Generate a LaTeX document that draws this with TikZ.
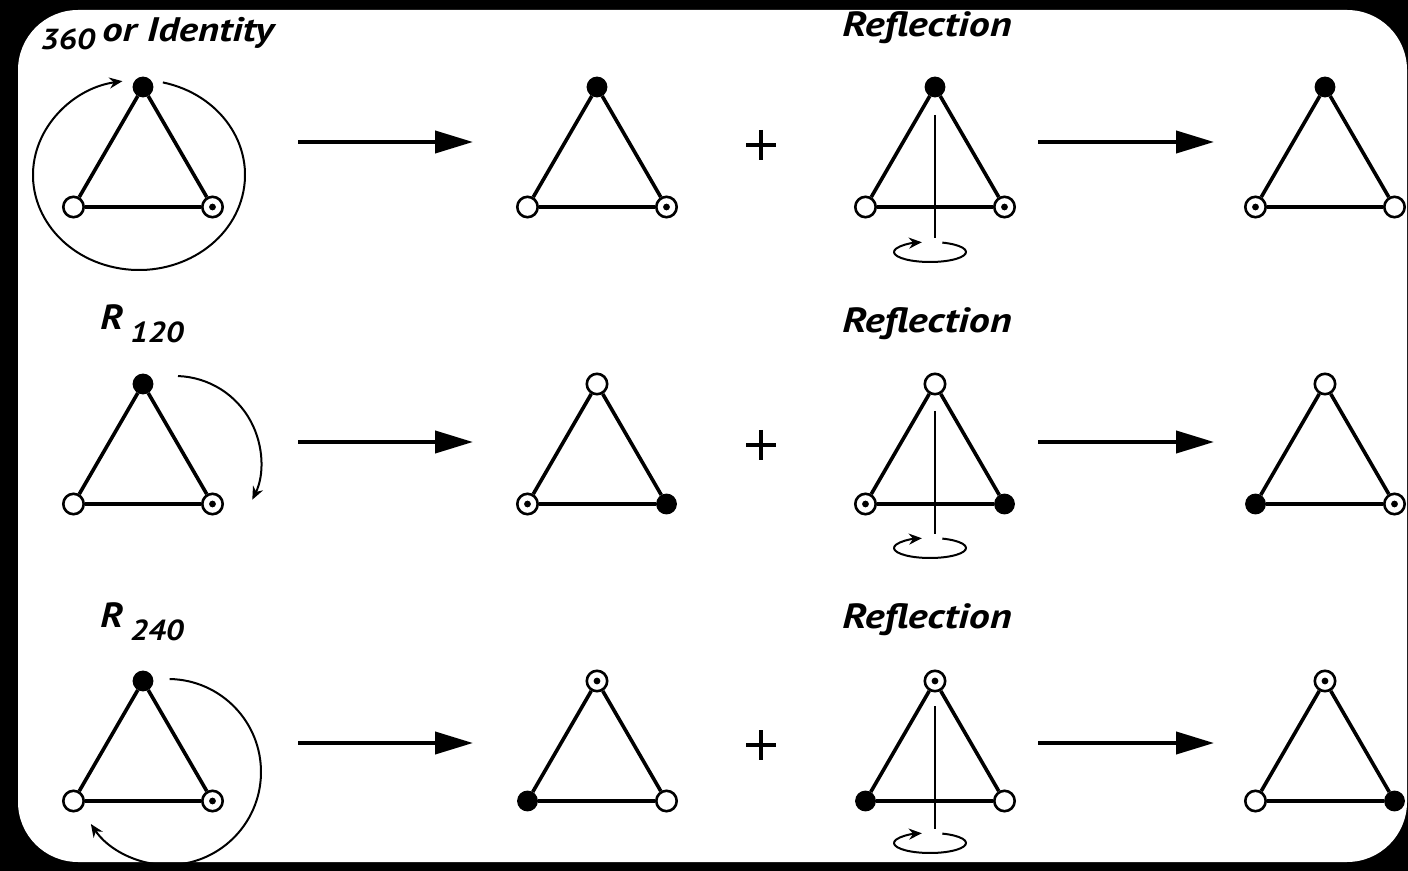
\documentclass[tikz,border=0pt]{standalone}
\usepackage{fontspec}
\setmainfont{PT Sans}
\usetikzlibrary{arrows.meta}
\tikzset{
  vb/.style={circle, fill=black, draw=black, line width=0.6pt, minimum size=9.8pt, inner sep=0pt},
  vo/.style={circle, fill=white, draw=black, line width=1.3pt, minimum size=10.2pt, inner sep=0pt},
  vd/.style={vo, path picture={\fill[black] (path picture bounding box.center) circle (1.7pt);}},
  edgeline/.style={line width=1.8pt},
  bigarrow/.style={line width=2pt, -{Triangle[length=19pt,width=11pt]}},
  rotarrow/.style={line width=1pt, -{Stealth[length=6.5pt,width=5.5pt]}},
  axisline/.style={line width=1.2pt},
  plusline/.style={line width=2pt},
  lbl/.style={font=\bfseries\itshape, inner sep=0pt, anchor=base west},
}
\newcommand{\drawtri}[6]{%
  \node[#4] (#1t) at (#2,#3) {};
  \node[#5] (#1l) at ({#2-69.5},{#3+120}) {};
  \node[#6] (#1r) at ({#2+69.5},{#3+120}) {};
  \draw[edgeline] (#1t) -- (#1l) -- (#1r) -- (#1t);
}
\begin{document}
\begin{tikzpicture}[x=0.5pt,y=-0.5pt]
\useasboundingbox (0,0) rectangle (1408,871);
\fill[black] (0,0) rectangle (1408,871);
\fill[white, rounded corners=30pt] (18,10) rectangle (1407,862);

% Row 1
\drawtri{a1}{143}{87}{vb}{vo}{vd}
\drawtri{a2}{597}{87}{vb}{vo}{vd}
\drawtri{a3}{935}{87}{vb}{vo}{vd}
\drawtri{a4}{1325}{87}{vb}{vd}{vo}
% Row 2
\drawtri{b1}{143}{384}{vb}{vo}{vd}
\drawtri{b2}{597}{384}{vo}{vd}{vb}
\drawtri{b3}{935}{384}{vo}{vd}{vb}
\drawtri{b4}{1325}{384}{vo}{vb}{vd}
% Row 3
\drawtri{c1}{143}{681}{vb}{vo}{vd}
\drawtri{c2}{597}{681}{vd}{vb}{vo}
\drawtri{c3}{935}{681}{vd}{vb}{vo}
\drawtri{c4}{1325}{681}{vd}{vo}{vb}

% arrows, plus signs, reflection axes
\foreach \n/\ay/\py/\oy in {a/142/145/0, b/442/445/296, c/743/745/591}{
  \coordinate (\n s1) at (298,\ay);
  \coordinate (\n e1) at (473,\ay);
  \coordinate (\n s2) at (1038,\ay);
  \coordinate (\n e2) at (1214,\ay);
  \draw[bigarrow] (\n s1) -- (\n e1);
  \draw[bigarrow] (\n s2) -- (\n e2);
  \draw[plusline] (746,\py) -- (776,\py) (761,\py-15) -- (761,\py+15);
  \coordinate (\n x1) at (935,115+\oy);
  \coordinate (\n x2) at (935,238+\oy);
  \draw[axisline] (\n x1) -- (\n x2);
  \draw[rotarrow] (930,252+\oy) ++(-70:36 and 10) arc[start angle=-70, end angle=257, x radius=36, y radius=10];
  \node[lbl, anchor=base] at (927,37+\oy) {\scalebox{1.2}[1]{\fontsize{17.5}{17.5}\selectfont Reflection}};
}

% rotation arcs
\draw[rotarrow] (139,175) ++(-77:106 and 95) arc[start angle=-77, end angle=261, x radius=106, y radius=95];
\draw[rotarrow] (175,462) ++(-88:86) arc[start angle=-88, end angle=26, radius=86];
\draw[rotarrow] (168,772) ++(-89:93) arc[start angle=-89, end angle=146, radius=93];

% labels
\node[lbl] at (40,50) {\scalebox{1.15}[1]{\fontsize{14.5}{14.5}\selectfont 360}};
\node[lbl] at (102,42) {\scalebox{1.2}[1]{\fontsize{17}{17}\selectfont or Identity}};
\node[lbl] at (100,330) {\scalebox{1.12}[1]{\fontsize{17.5}{17.5}\selectfont R}};
\node[lbl] at (130,343) {\scalebox{1.12}[1]{\fontsize{14.5}{14.5}\selectfont 120}};
\node[lbl] at (100,627) {\scalebox{1.12}[1]{\fontsize{17.5}{17.5}\selectfont R}};
\node[lbl] at (130,640) {\scalebox{1.12}[1]{\fontsize{14.5}{14.5}\selectfont 240}};
\end{tikzpicture}
\end{document}
